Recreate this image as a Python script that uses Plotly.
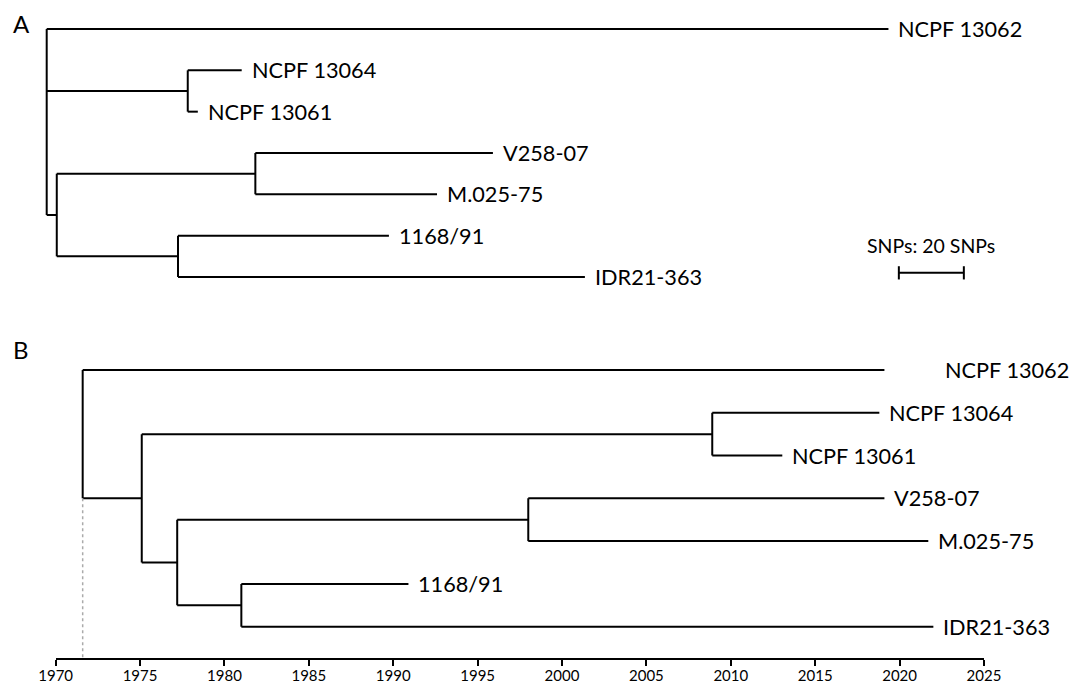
import plotly.graph_objects as go

W, H = 1073, 684

# ---------------- data ----------------
# Panel A: SNP distance tree (distance from root, SNPs)
tips = ["NCPF 13062", "NCPF 13064", "NCPF 13061", "V258-07", "M.025-75", "1168/91", "IDR21-363"]
tip_snps_A = [259.0, 60.0, 46.5, 137.3, 120.1, 105.3, 165.6]
nodes_A = ["rootA", "nA1", "nA2", "nA3", "nA4"]
node_snps_A = [0.0, 43.4, 3.1, 64.2, 40.4]
children_A = {
    "rootA": ["NCPF 13062", "nA1", "nA2"],
    "nA1": ["NCPF 13064", "NCPF 13061"],
    "nA2": ["nA3", "nA4"],
    "nA3": ["V258-07", "M.025-75"],
    "nA4": ["1168/91", "IDR21-363"],
}
scale_bar_snps = 20
scale_bar_start = 262.2

# Panel B: dated tree (years)
tip_years_B = [2019.1, 2018.8, 2013.05, 2019.1, 2021.7, 1990.9, 2022.0]
nodes_B = ["rootB", "nB1", "nB2", "nB3", "nB4", "nB5"]
node_years_B = [1971.6, 1975.1, 2008.9, 1977.2, 1998.0, 1981.0]
children_B = {
    "rootB": ["NCPF 13062", "nB1"],
    "nB1": ["nB2", "nB3"],
    "nB2": ["NCPF 13064", "NCPF 13061"],
    "nB3": ["nB4", "nB5"],
    "nB4": ["V258-07", "M.025-75"],
    "nB5": ["1168/91", "IDR21-363"],
}
year_ticks = [1970, 1975, 1980, 1985, 1990, 1995, 2000, 2005, 2010, 2015, 2020, 2025]

# ---------------- helpers ----------------
def build_tree(tip_x, node_names, node_x, children, root):
    xpos = dict(zip(tips, tip_x))
    xpos.update(dict(zip(node_names, node_x)))
    ypos = {t: i for i, t in enumerate(tips)}

    def gety(n):
        if n in ypos:
            return ypos[n]
        ys = [gety(c) for c in children[n]]
        ypos[n] = (min(ys) + max(ys)) / 2
        return ypos[n]

    gety(root)
    xs, ys = [], []
    for parent, kids in children.items():
        cy = [ypos[k] for k in kids]
        xs += [xpos[parent], xpos[parent], None]
        ys += [min(cy), max(cy), None]
        for k in kids:
            xs += [xpos[parent], xpos[k], None]
            ys += [ypos[k], ypos[k], None]
    return xs, ys, xpos, ypos

FONT = "Lato"
LINE = dict(color="black", width=2)
TIP_SIZE = 21.7

fig = go.Figure()

# Panel A
xa, ya, xposA, yposA = build_tree(tip_snps_A, nodes_A, node_snps_A, children_A, "rootA")
fig.add_trace(go.Scatter(x=xa, y=ya, mode="lines", line=LINE, xaxis="x", yaxis="y",
                         hoverinfo="skip", showlegend=False))

# scale bar
sb_y = 5.9
cap = 0.16
sbx = [scale_bar_start, scale_bar_start + scale_bar_snps, None,
       scale_bar_start, scale_bar_start, None,
       scale_bar_start + scale_bar_snps, scale_bar_start + scale_bar_snps]
sby = [sb_y, sb_y, None, sb_y - cap, sb_y + cap, None, sb_y - cap, sb_y + cap]
fig.add_trace(go.Scatter(x=sbx, y=sby, mode="lines", line=LINE, xaxis="x", yaxis="y",
                         hoverinfo="skip", showlegend=False))

# Panel B
xb, yb, xposB, yposB = build_tree(tip_years_B, nodes_B, node_years_B, children_B, "rootB")
fig.add_trace(go.Scatter(x=xb, y=yb, mode="lines", line=LINE, xaxis="x2", yaxis="y2",
                         hoverinfo="skip", showlegend=False))

# B y geometry
yB_top_px, yB_bot_px, yB0_px, yB_step = 320, 658, 370, 42.78
yB_range = [(yB_bot_px - yB0_px) / yB_step, (yB_top_px - yB0_px) / yB_step]

# dotted line from root to axis
fig.add_trace(go.Scatter(x=[xposB["rootB"]] * 2,
                         y=[yposB["nB1"], yB_range[0]], mode="lines",
                         line=dict(color="#aaaaaa", width=1.5, dash="dot"),
                         xaxis="x2", yaxis="y2", hoverinfo="skip", showlegend=False))

annotations = []
for t in tips:
    annotations.append(dict(x=xposA[t], y=yposA[t], xref="x", yref="y", text=t,
                            showarrow=False, xanchor="left", yanchor="middle", xshift=8,
                            font=dict(family=FONT, size=TIP_SIZE, color="black")))
extra_B = {"NCPF 13062": 51}
for t in tips:
    annotations.append(dict(x=xposB[t], y=yposB[t], xref="x2", yref="y2", text=t,
                            showarrow=False, xanchor="left", yanchor="middle",
                            xshift=8 + extra_B.get(t, 0),
                            font=dict(family=FONT, size=TIP_SIZE, color="black")))
annotations.append(dict(x=scale_bar_start + scale_bar_snps / 2, y=5.25, xref="x", yref="y",
                        text="SNPs: " + str(scale_bar_snps) + " SNPs", showarrow=False,
                        xanchor="center", yanchor="middle",
                        font=dict(family=FONT, size=19.5, color="black")))
annotations.append(dict(x=11 / W, y=1 - 23.3 / H, xref="paper", yref="paper", text="A",
                        showarrow=False, xanchor="left", yanchor="middle",
                        font=dict(family=FONT, size=24, color="black")))
annotations.append(dict(x=11 / W, y=1 - 349.5 / H, xref="paper", yref="paper", text="B",
                        showarrow=False, xanchor="left", yanchor="middle",
                        font=dict(family=FONT, size=24, color="black")))

xA0_px, xA_scale = 46.7, 3.25
yA0_px, yA_step, yA_bot_px = 29, 41.33, 320

fig.update_layout(
    width=W, height=H,
    autosize=False,
    margin=dict(l=0, r=0, t=0, b=0, pad=0),
    paper_bgcolor="white", plot_bgcolor="white",
    font=dict(family=FONT, color="black"),
    showlegend=False,
    annotations=annotations,
    xaxis=dict(domain=[0, 1], range=[-xA0_px / xA_scale, (W - xA0_px) / xA_scale],
               visible=False, anchor="y", automargin=False),
    yaxis=dict(domain=[1 - yA_bot_px / H, 1],
               range=[(yA_bot_px - yA0_px) / yA_step, -yA0_px / yA_step],
               visible=False, anchor="x", automargin=False),
    xaxis2=dict(domain=[55.67 / W, 984 / W], range=[1970, 2025], anchor="y2",
                tickvals=year_ticks, ticktext=[str(v) for v in year_ticks],
                showline=True, linecolor="black", linewidth=2,
                ticks="outside", ticklen=6, tickwidth=2, tickcolor="black",
                ticklabelstandoff=-3,
                tickfont=dict(family=FONT, size=15, color="black"),
                showgrid=False, zeroline=False, automargin=False),
    yaxis2=dict(domain=[1 - yB_bot_px / H, 1 - yB_top_px / H], range=yB_range,
                visible=False, anchor="x2", automargin=False),
)

fig.write_html(
    "out.html",
    config={"responsive": False, "displayModeBar": False},
    post_script="document.body.style.margin='0';document.body.style.overflow='hidden';",
)
